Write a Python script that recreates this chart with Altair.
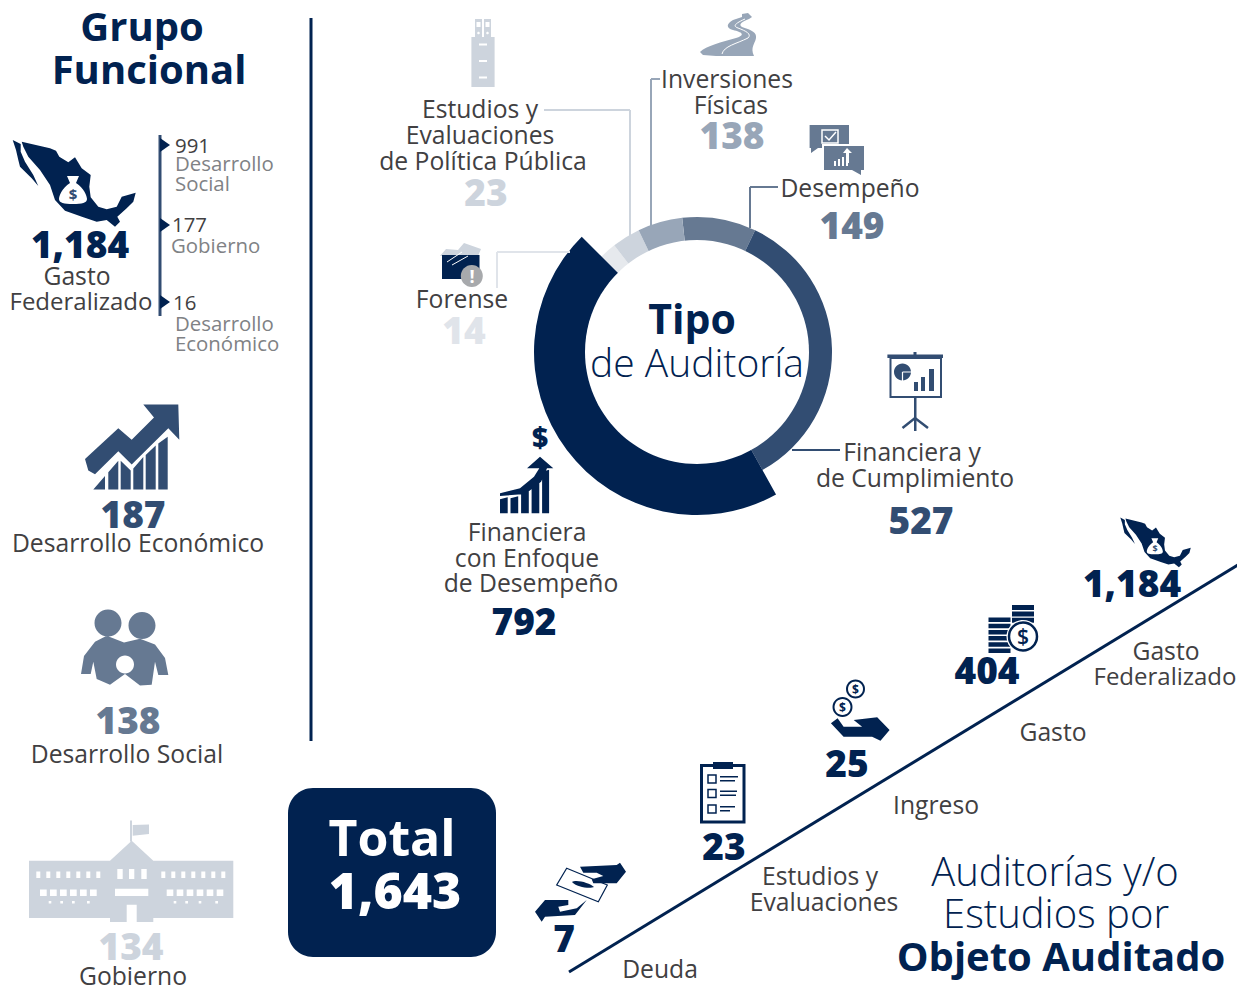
import math
import altair as alt
import pandas as pd

# ---------- values ----------
tipos = ["Desempeño", "Financiera y de Cumplimiento", "Financiera con Enfoque de Desempeño",
         "Forense", "Estudios y Evaluaciones de Política Pública", "Inversiones Físicas"]
tipo_valores = [149, 527, 792, 14, 23, 138]
arco_grados = [31.8, 125.5, 164.0, 7.2, 12.2, 19.3]
anillo = ["base", "base", "mayor", "base", "base", "base"]
tipo_colores = ["#667992", "#324d72", "#012250", "#e6e9ed", "#cdd4dd", "#98a6b8"]

grupo_valores = [1184, 187, 138, 134]
federalizado_valores = [991, 177, 16]
objeto_valores = [7, 23, 25, 404, 1184]
total = 1643

NAVY, MID, SLATE, STEEL, PALE, FAINT = "#012250", "#324d72", "#667992", "#98a6b8", "#cdd4dd", "#e0e4ea"
INK, GRAY = "#414042", "#808285"
SANS, HEAVY = "Open Sans", "Open Sans"

layers = []


def X(v):
    return alt.value(v - 8)


def Y(v):
    return alt.value(v - 8)


def fmt(n):
    return f"{n:,}"


def txt(label, x, y, size=24.7, color=INK, weight=400, align="center", font=SANS, **kw):
    layers.append(alt.Chart().mark_text(text=label, font=font, fontSize=size, fontWeight=weight, fill=color,
                                        align=align, baseline="alphabetic", **kw).encode(x=X(x), y=Y(y)))


def num(value, x, y, color, size=37):
    txt(fmt(value), x, y, size, color, 800, font=HEAVY)


def rule(x0, y0, x1, y1, color, w=2):
    layers.append(alt.Chart().mark_rule(color=color, strokeWidth=w).encode(x=X(x0), x2=X(x1), y=Y(y0), y2=Y(y1)))


def icon(path, color, dx=0.0, dy=0.0, s=1.0, stroke=False, sw=2.0):
    opts = dict(shape=path, size=4 * s * s, opacity=1)
    if stroke:
        opts.update(filled=False, stroke=color, strokeWidth=sw)
    else:
        opts.update(filled=True, fill=color, strokeWidth=0)
    layers.append(alt.Chart().mark_point(**opts).encode(x=X(dx), y=Y(dy)))


def poly(pts):
    return "M" + " L".join(f"{a:.1f} {b:.1f}" for a, b in pts) + " Z"


def rect(x0, y0, x1, y1):
    return poly([(x0, y0), (x1, y0), (x1, y1), (x0, y1)])


def circ(cx, cy, r):
    k = 0.5523 * r
    return (f"M{cx-r} {cy} C{cx-r} {cy-k} {cx-k} {cy-r} {cx} {cy-r} C{cx+k} {cy-r} {cx+r} {cy-k} {cx+r} {cy} "
            f"C{cx+r} {cy+k} {cx+k} {cy+r} {cx} {cy+r} C{cx-k} {cy+r} {cx-r} {cy+k} {cx-r} {cy} Z")


def z1(pts):
    return [(a / 3, b / 3) for a, b in pts]


def z2(pts):
    return [(a / 3, 390 + b / 2.613) for a, b in pts]


def z4(pts):
    return [(420 + a / 2.85, 340 + b / 3) for a, b in pts]


def z5(pts):
    return [(520 + a / 3, 740 + b / 3) for a, b in pts]


def z6(pts):
    return [(800 + a / 2.98, 500 + b / 3) for a, b in pts]


# ---------- donut ----------
fin = []
acum = 0.0
for g in arco_grados:
    acum += g
    fin.append(acum)
ini = [f - g for f, g in zip(fin, arco_grados)]
donut = pd.DataFrame({"tipo": tipos, "valor": tipo_valores, "ini": ini, "fin": fin, "anillo": anillo})
start = math.radians(-6.3)
for nombre, radio in (("base", 135), ("mayor", 163)):
    layers.append(
        alt.Chart(donut).transform_filter(alt.datum.anillo == nombre).mark_arc(innerRadius=100, outerRadius=radio).encode(
            x=X(697), y=Y(352),
            theta=alt.Theta("ini:Q", scale=alt.Scale(domain=[0, 360], range=[start, start + 2 * math.pi])),
            theta2=alt.Theta2("fin:Q"),
            color=alt.Color("tipo:N", scale=alt.Scale(domain=tipos, range=tipo_colores), legend=None),
        )
    )
icon(circ(697, 352, 112), "#ffffff")

# ---------- left column ----------
txt("Grupo", 142, 41, 40, NAVY, 700)
txt("Funcional", 149, 84, 40, NAVY, 700)
rule(311, 18, 311, 741, NAVY, 3)

MAP = (
    poly(z1([(65, 425), (150, 445), (168, 452), (178, 470), (205, 487), (225, 472), (245, 505), (272, 525), (268, 560),
             (272, 592), (295, 620), (320, 628), (350, 620), (365, 590), (407, 578), (400, 605), (380, 625), (352, 650),
             (360, 665), (345, 680), (320, 660), (290, 665), (250, 652), (195, 632), (165, 600), (150, 555), (120, 510),
             (85, 470), (70, 440)]))
    + poly(z1([(38, 420), (62, 432), (62, 455), (75, 485), (100, 525), (115, 558), (95, 535), (60, 500), (55, 480), (48, 450)]))
)
BAG = "M67 176 L79 176 L76 183 C84 188 87 196 87 199 C87 203 82 204 73 204 C64 204 59 203 59 199 C59 196 62 188 70 183 Z"
icon(MAP, NAVY)
icon(BAG, "#ffffff")
txt("$", 73, 200, 15, MID, 700)
num(grupo_valores[0], 80, 258, NAVY)
txt("Gasto", 77, 285)
txt("Federalizado", 81, 310, 24)

rule(160, 135, 160, 316, MID, 3)
for ty in (145, 225, 302):
    icon(poly([(160, ty - 7), (170, ty), (160, ty + 7)]), NAVY)
txt(str(federalizado_valores[0]), 175, 153, 20.4, align="left")
txt("Desarrollo", 175, 171, 20.4, GRAY, align="left")
txt("Social", 175, 191, 20.4, GRAY, align="left")
txt(str(federalizado_valores[1]), 172, 232, 20.4, align="left")
txt("Gobierno", 171, 253, 20.4, GRAY, align="left")
txt(str(federalizado_valores[2]), 173, 310, 20.4, align="left")
txt("Desarrollo", 175, 331, 20.4, GRAY, align="left")
txt("Económico", 175, 351, 20.4, GRAY, align="left")

GROWTH = poly(z2([(255, 180), (355, 100), (395, 130), (462, 72), (430, 38), (535, 38), (538, 130), (505, 100),
                  (395, 195), (355, 160), (285, 220), (265, 210)]))
for bar in ([(280, 260), (315, 225), (315, 260)],
            [(325, 260), (325, 215), (355, 185), (355, 260)],
            [(362, 260), (362, 185), (392, 210), (392, 260)],
            [(400, 260), (400, 205), (430, 175), (430, 260)],
            [(437, 260), (437, 170), (467, 145), (467, 260)],
            [(475, 260), (475, 140), (503, 122), (503, 260)]):
    GROWTH += poly(z2(bar))
icon(GROWTH, MID)
num(grupo_valores[1], 133, 528, MID)
txt("Desarrollo Económico", 138, 552)

PEOPLE = circ(108, 623, 13.5) + circ(142, 625.5, 13.5) + poly(z2([
    (243, 742), (252, 695), (285, 658), (320, 642), (372, 660), (420, 650), (465, 665), (495, 700), (505, 745),
    (475, 745), (465, 710), (455, 770), (420, 772), (375, 742), (330, 770), (290, 755), (280, 710), (272, 742)]))
icon(PEOPLE, SLATE)
icon(circ(125, 664.5, 9), "#ffffff")
num(grupo_valores[2], 128, 734, SLATE)
txt("Desarrollo Social", 127, 763)

BUILD = (poly(z2([(87, 1230), (330, 1230), (395, 1178), (460, 1230), (700, 1230), (700, 1380), (460, 1380), (460, 1390),
                  (330, 1390), (330, 1380), (87, 1380)]))
         + poly(z2([(390, 1125), (396, 1125), (396, 1180), (390, 1180)]))
         + poly(z2([(398, 1137), (447, 1135), (447, 1160), (398, 1165)])))
icon(BUILD, PALE)
HOLES = poly(z2([(380, 1345), (410, 1345), (410, 1390), (380, 1390)])) + poly(z2([(345, 1303), (445, 1303), (445, 1322), (345, 1322)]))
for zx in (115, 145, 175, 205, 235, 265, 295, 490, 520, 550, 580, 610, 640, 670):
    HOLES += poly(z2([(zx - 6, 1258), (zx + 6, 1258), (zx + 6, 1275), (zx - 6, 1275)]))
for zx in (360, 395, 432):
    HOLES += poly(z2([(zx - 8, 1252), (zx + 8, 1252), (zx + 8, 1278), (zx - 8, 1278)]))
for zx in (130, 160, 190, 220, 250, 280, 510, 540, 570, 600, 630, 660):
    HOLES += poly(z2([(zx - 10, 1305), (zx + 10, 1305), (zx + 10, 1322), (zx - 10, 1322)]))
for zx in (150, 185, 220, 265, 525, 560, 600, 650):
    HOLES += poly(z2([(zx - 4, 1335), (zx + 4, 1335), (zx + 4, 1342), (zx - 4, 1342)]))
icon(HOLES, "#ffffff")
num(grupo_valores[3], 131, 960, PALE)
txt("Gobierno", 133, 985)

# ---------- total box ----------
layers.append(alt.Chart().mark_rect(fill=NAVY, cornerRadius=25).encode(x=X(288), x2=X(496), y=Y(788), y2=Y(957)))
txt("Total", 392, 856, 50, "#ffffff", 700)
txt(fmt(total), 395, 909, 50, "#ffffff", 800, font=HEAVY)

# ---------- donut captions ----------
txt("Tipo", 692, 334, 41, NAVY, 700)
txt("de Auditoría", 697, 377, 39, NAVY, 300)

# Estudios
rule(544, 110, 630, 110, PALE)
rule(630, 110, 630, 236, PALE)
icon(rect(471.4, 37, 494.6, 87) + rect(475, 19, 482, 37) + rect(484, 19, 491, 37), PALE)
icon(rect(479, 43.5, 487, 45.5) + rect(479, 60, 487, 62) + rect(479, 76.5, 487, 78.5)
     + rect(476.5, 22, 480.5, 27) + rect(485.5, 22, 489.5, 27) + circ(478.5, 33, 1.3) + circ(487.5, 33, 1.3), "#ffffff")
txt("Estudios y", 480, 118)
txt("Evaluaciones", 480, 144)
txt("de Política Pública", 483, 170)
num(tipo_valores[4], 486, 206, PALE)

# Inversiones
rule(651, 79, 651, 226, STEEL)
rule(651, 79, 660, 79, STEEL)
icon("M700 52 C706 46 722 42 736 38 C746 35 742 32 733 30 C726 28 726 24 733 20 L742 17 L742 14 L748 13 L752 17 L749 19 "
     "C742 22 738 24 742 27 C752 30 757 33 756 38 C755 44 750 47 754 56 L716 56 L703 55 Z", STEEL)
icon("M722 54 C724 46 736 44 748 38 C752 34 746 31 738 28 C732 26 736 23 745 19", "#ffffff", stroke=True, sw=1)
txt("Inversiones", 727, 88)
txt("Físicas", 731, 114)
num(tipo_valores[5], 732, 149, STEEL)

# Desempeño
rule(750, 187, 778, 187, SLATE)
rule(750, 187, 750, 228, SLATE)
icon(rect(809.6, 125, 849, 148) + poly([(811, 148), (818, 148), (811, 153)]), SLATE)
icon(rect(822, 144, 866, 172), "#ffffff")
icon(rect(824, 146, 864, 170) + poly([(852, 170), (861, 170), (861, 175)]), SLATE)
icon(rect(822, 130, 838, 143), "#ffffff", stroke=True, sw=1.5)
icon("M825 136 L829 140 L836 132", "#ffffff", stroke=True, sw=1.5)
icon(rect(834, 161, 836, 166) + rect(838, 159, 840, 166) + rect(842, 157, 844, 166) + rect(846, 154, 848, 166)
     + poly([(847, 148), (852, 153), (849, 153), (849, 163), (846, 163), (846, 153), (843, 153)]), "#ffffff")
txt("Desempeño", 850, 197)
num(tipo_valores[0], 852, 239, SLATE)

# Forense
rule(497, 252, 570, 252, FAINT)
rule(497, 252, 497, 288, FAINT)
icon(poly([(440, 256), (446, 249), (458, 250), (464, 243), (481, 249), (478, 256)]), PALE)
icon(rect(442, 255, 479.5, 279), NAVY)
icon("M447 262 L462 252 M452 265 L468 256", "#ffffff", stroke=True, sw=1)
icon(circ(471.8, 276, 11), "#a7a9ac")
txt("!", 472, 283, 18, "#ffffff", 700)
txt("Forense", 462, 308)
num(tipo_valores[3], 464, 344, FAINT)

# Cumplimiento
rule(792, 450, 840, 450, MID)
icon(rect(887.4, 354.5, 943, 358) + rect(913.5, 352, 916.5, 355) + rect(914, 397, 916.5, 431), MID)
icon(rect(890.5, 358, 941, 397), MID, stroke=True, sw=2)
icon("M902.5 428 L915 418 L928 428", MID, stroke=True, sw=2.5)
icon(circ(902.5, 372, 8.5) + rect(914, 382, 918, 391) + rect(921, 377, 925, 391) + rect(929, 369, 934, 391), MID)
icon("M902.5 372 L911 372 M902.5 372 L902.5 381", "#ffffff", stroke=True, sw=1.2)
txt("Financiera y", 912, 461)
txt("de Cumplimiento", 915, 487)
num(tipo_valores[1], 921, 534, MID)

# Enfoque de Desempeño
txt("$", 540, 448, 28, NAVY, 800)
FIN = poly(z4([(342, 350), (380, 385), (362, 385), (345, 425), (300, 462), (228, 468), (228, 460), (285, 445), (325, 410),
               (340, 385), (305, 385)]))
for x0, x1, top in ((228, 250, 478), (258, 280, 475), (288, 310, 460), (318, 340, 435), (348, 368, 395)):
    FIN += poly(z4([(x0, 520), (x0, top), (x1, top - 6), (x1, 520)]))
icon(FIN, NAVY)
txt("Financiera", 527, 541)
txt("con Enfoque", 527, 567)
txt("de Desempeño", 531, 592)
num(tipo_valores[2], 524, 635, NAVY)

# ---------- objeto auditado ----------
rule(569, 972, 1241, 563, NAVY, 3)

icon(poly(z5([(45, 515), (75, 480), (145, 480), (145, 495), (115, 500), (120, 515), (170, 505), (200, 480), (165, 525), (75, 530), (65, 545)])), NAVY)
bill = z5([(140, 385), (262, 435), (235, 485), (110, 435)])
icon(poly(bill), "#ffffff")
icon(poly(bill), NAVY, stroke=True, sw=1.2)
icon("M572 882 C576 879 590 883 594 887 C590 889 576 887 572 882 Z", NAVY)
icon(poly(z5([(180, 380), (290, 375), (300, 368), (318, 395), (290, 430), (220, 430), (215, 418), (250, 408), (230, 398), (190, 398)])), NAVY)
num(objeto_valores[0], 564, 952, NAVY)
txt("Deuda", 660, 978)

icon(rect(701.5, 765.5, 744, 822), NAVY, stroke=True, sw=3)
icon(rect(713, 762, 733, 769), NAVY)
for cy, l1, l2 in ((779, 738, 735), (793.5, 737, 736), (809, 735, 730)):
    icon(rect(708, cy - 4, 716, cy + 4), NAVY, stroke=True, sw=1.5)
    icon(rect(720, cy - 3, l1, cy - 1.6) + rect(720, cy + 1, l2, cy + 2.4), NAVY)
num(objeto_valores[1], 724, 860, NAVY)
txt("Estudios y", 820, 885)
txt("Evaluaciones", 824, 911)

icon(poly(z6([(92, 670), (112, 655), (130, 680), (185, 680), (160, 660), (230, 652), (267, 690), (240, 722), (215, 710), (130, 710)])), NAVY)
for cx, cy, r in ((855.5, 689, 9.5), (842.5, 707, 10)):
    icon(circ(cx, cy, r), NAVY)
    icon(circ(cx, cy, r - 2), "#ffffff")
    txt("$", cx, cy + 4.5, 12, NAVY, 700)
num(objeto_valores[2], 847, 777, NAVY)
txt("Ingreso", 936, 814)

COINS = ""
for k in range(3):
    COINS += rect(1012, 605 + k * 6.4, 1034, 610 + k * 6.4)
for k in range(6):
    COINS += rect(988.5, 617.5 + k * 6.2, 1010.5, 622 + k * 6.2)
icon(COINS, NAVY)
icon(circ(1023, 636.5, 16.5), "#ffffff")
icon(circ(1023, 636.5, 14), NAVY, stroke=True, sw=2.5)
txt("$", 1023, 644, 21, NAVY, 600)
num(objeto_valores[3], 987, 684, NAVY)
txt("Gasto", 1053, 741)

icon(MAP, NAVY, dx=1113, dy=437.4, s=0.573)
icon(BAG, "#ffffff", dx=1113, dy=437.4, s=0.573)
txt("$", 1155, 552, 9, MID, 700)
num(objeto_valores[4], 1132, 597, NAVY)
txt("Gasto", 1166, 660)
txt("Federalizado", 1165, 685, 24)

txt("Auditorías y/o", 1055, 886, 40, NAVY, 300)
txt("Estudios por", 1056, 928, 40, NAVY, 300)
txt("Objeto Auditado", 1061, 971, 40, NAVY, 700)

chart = alt.layer(*layers).properties(width=1229, height=979, padding=0, autosize=alt.AutoSizeParams(type="none")).configure_view(stroke=None)
chart.save("out.html", embed_options={"renderer": "svg", "actions": False})
